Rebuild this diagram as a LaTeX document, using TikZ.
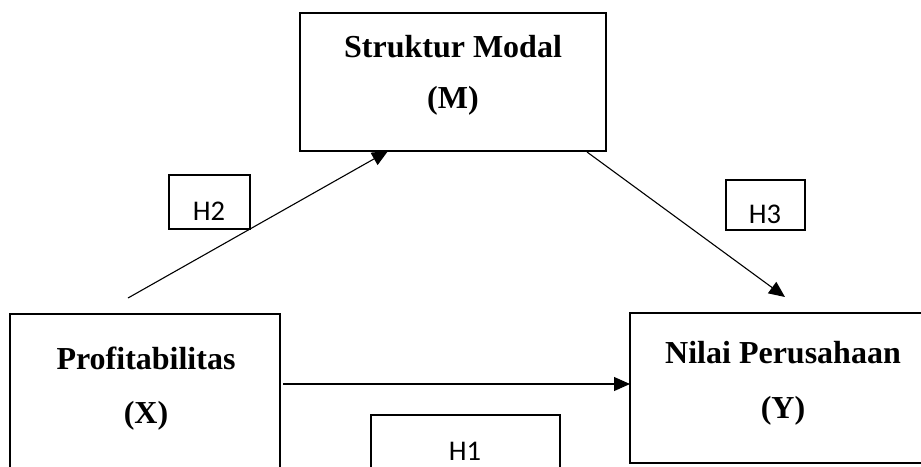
\documentclass[tikz,border=0pt]{standalone}
\usepackage{fontspec}
\setmainfont{Liberation Serif}
\newfontfamily\calib{Carlito}
\usetikzlibrary{arrows.meta}
\tikzset{
  mainbox/.style={draw, line width=2.4pt, rectangle, inner sep=0pt},
  hbox/.style={draw, line width=1.8pt, rectangle, inner sep=0pt},
  maintext/.style={anchor=base, inner sep=0pt, font=\fontsize{32}{38}\selectfont\bfseries},
  htext/.style={anchor=base, inner sep=0pt, font=\calib\fontsize{28.5}{34}\selectfont},
  conn/.style={line width=1.1pt, -{Triangle[length=16pt,width=14pt]}}
}
\begin{document}
\begin{tikzpicture}[x=1pt,y=-1pt]
\useasboundingbox (0,0) rectangle (921,466);
\clip (0,0) rectangle (921,466);
\fill[white] (0,0) rectangle (921,466);
% boxes
\node[mainbox, minimum width=270pt, minimum height=166pt] (X) at (145,397) {};
\node[mainbox, minimum width=300pt, minimum height=150pt] (Y) at (780,388) {};
\node[mainbox, minimum width=306pt, minimum height=138pt] (M) at (453,82) {};
\node[hbox, minimum width=81pt, minimum height=54pt] (H2) at (209.5,202) {};
\node[hbox, minimum width=79pt, minimum height=50pt] (H3) at (765.5,205) {};
\node[hbox, minimum width=189pt, minimum height=75pt] (H1) at (465.5,452.5) {};
% texts
\node[maintext] (tx1) at (146,369) {Profitabilitas};
\node[maintext] (tx2) at (146,423) {(X)};
\node[maintext] (tm1) at (453,57) {Struktur Modal};
\node[maintext] (tm2) at (453,108) {(M)};
\node[maintext] (ty1) at (783,363) {Nilai Perusahaan};
\node[maintext] (ty2) at (783,418) {(Y)};
\node[htext] (th2) at (209,220) {H2};
\node[htext] (th3) at (765,223) {H3};
\node[htext] (th1) at (465,460) {H1};
% connectors
\coordinate (a1) at (283,384);
\coordinate (a1e) at (630,384);
\coordinate (a2) at (128,298);
\coordinate (a2e) at (388,151);
\coordinate (a3) at (587,152);
\coordinate (a3e) at (785,297);
\draw[conn] (a1) -- (a1e);
\draw[conn] (a2) -- (a2e);
\draw[conn] (a3) -- (a3e);
\end{tikzpicture}
\end{document}
